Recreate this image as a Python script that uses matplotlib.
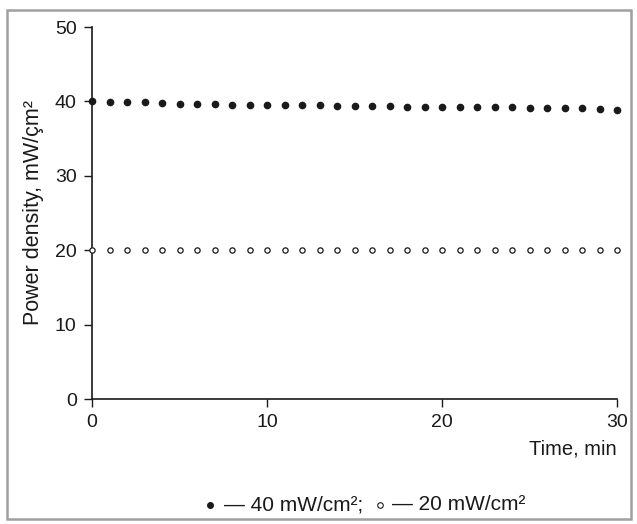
import matplotlib
matplotlib.use("Agg")
import matplotlib.pyplot as plt
from matplotlib.lines import Line2D
from matplotlib.patches import Rectangle

plt.rcParams['font.family'] = ['Liberation Sans', 'DejaVu Sans']

time_min = list(range(31))
p40 = [40.0, 39.88, 39.92, 39.92, 39.74, 39.65, 39.65, 39.65, 39.56, 39.52,
       39.52, 39.48, 39.48, 39.48, 39.42, 39.38, 39.38, 39.38, 39.29, 39.21,
       39.3, 39.29, 39.21, 39.21, 39.21, 39.07, 39.07, 39.07, 39.07, 38.94, 38.84]
p20 = [20.0] * 31
xticks = [0, 10, 20, 30]
yticks = [0, 10, 20, 30, 40, 50]

fig = plt.figure(figsize=(6.37, 5.24), dpi=100)
ax = fig.add_axes([92/637, 1-399/524, (617-92)/637, (399-27)/524])

ax.plot(time_min, p40, linestyle='none', marker='o', markersize=4.5,
        color='#1a1a1a', clip_on=False, zorder=3)
ax.plot(time_min, p20, linestyle='none', marker='o', markersize=3.8,
        markerfacecolor='white', markeredgecolor='#1a1a1a', markeredgewidth=0.9,
        clip_on=False, zorder=3)

ax.set_xlim(0, 30)
ax.set_ylim(0, 50)
ax.set_xticks(xticks)
ax.set_yticks(yticks)
for s in ['top', 'right']:
    ax.spines[s].set_visible(False)
for s in ['left', 'bottom']:
    ax.spines[s].set_linewidth(1.2)
    ax.spines[s].set_color('#1a1a1a')
ax.tick_params(axis='both', direction='out', length=6, width=1.0,
               labelsize=14, colors='#1a1a1a', pad=5)
ax.set_ylabel('Power density, mW/çm²', fontsize=15.5, color='#1a1a1a', labelpad=8)
ax.set_xlabel('Time, min', fontsize=14.5, color='#1a1a1a', loc='right', labelpad=6)

# legend below
ly = 1 - 505/524
fig.add_artist(Line2D([210/637], [ly], marker='o', markersize=4,
                      color='#1a1a1a', linestyle='none'))
fig.text(224/637, ly, '— 40 mW/cm²;', fontsize=15, va='center', ha='left',
         color='#1a1a1a')
fig.add_artist(Line2D([380/637], [ly], marker='o', markersize=4,
                      markerfacecolor='white', markeredgecolor='#1a1a1a',
                      markeredgewidth=0.8, linestyle='none'))
fig.text(392/637, ly, '— 20 mW/cm²', fontsize=15, va='center', ha='left',
         color='#1a1a1a')

# frame
fig.add_artist(Rectangle((7/637, 1-519/524), (631-7)/637, (519-10)/524,
                         transform=fig.transFigure, fill=False,
                         edgecolor='#a0a0a0', linewidth=1.8))

fig.savefig('out.png', dpi=100)
